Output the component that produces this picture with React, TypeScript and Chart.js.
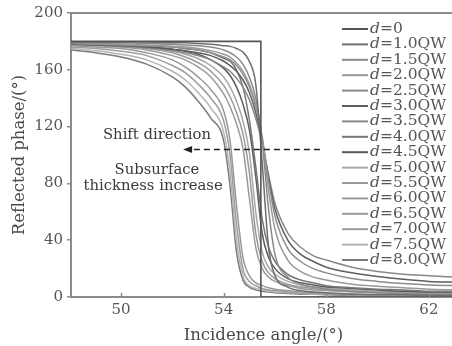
import { useEffect, useRef } from 'react';
import { Chart, registerables } from 'chart.js';

Chart.register(...registerables);

// shared incidence-angle grid (degrees)
const ANGLES = [48, 49, 50, 51, 52, 52.5, 53, 53.5, 54, 54.25, 54.5, 54.75, 55, 55.25, 55.5, 55.75, 56, 56.5, 57, 57.5, 58, 59, 60, 61, 62, 63];

// d = 0 : ideal step
const STEP_X = [48, 55.45, 55.45, 63];
const STEP_Y = [180, 180, 0, 0];

const D1_0 = [179.5, 179.5, 179.5, 179.5, 179, 179, 178.5, 178, 177, 176.5, 175, 172.5, 166, 150, 95, 35, 15, 7, 4.5, 3.5, 3, 2, 1.5, 1.5, 1, 1];
const D1_5 = [179, 179, 179, 178.5, 178, 177.5, 177, 176, 174, 172, 169, 164, 155, 140, 110, 62, 30, 14, 9, 7, 5.5, 4, 3, 2.5, 2, 2];
const D2_0 = [179, 178.5, 178, 177.5, 176.5, 176, 175, 173.5, 171, 169, 165, 159, 150, 136, 112, 75, 48, 26, 18, 14, 12, 9, 7.5, 6.5, 5.5, 5];
const D2_5 = [178.5, 178, 177.5, 177, 176, 175, 174, 172, 169, 167, 163, 157, 148, 134, 113, 82, 57, 34, 25, 20, 17, 13, 11, 9.5, 8.5, 8];
const D3_0 = [178, 177.5, 177, 176, 174.5, 173.5, 172, 170, 166, 163, 159, 153, 144, 130, 110, 84, 62, 40, 30, 25, 21, 17, 14.5, 12.5, 11, 10.5];
const D3_5 = [178, 177.5, 176.5, 175.5, 173.5, 172, 170, 167, 162, 159, 154, 148, 139, 126, 108, 86, 66, 45, 35, 29, 26, 21, 18, 16, 15, 14];
const D4_0 = [179, 178.5, 178, 177, 176, 175, 174, 172, 168, 166, 160, 148, 125, 92, 55, 35, 25, 16, 12, 10, 8, 6.5, 5.5, 5, 4, 4];
const D4_5 = [178.5, 178, 177.5, 176.5, 174.5, 173, 171, 167, 161, 156, 148, 136, 118, 85, 45, 28, 20, 13, 10, 8.5, 7, 6, 5, 4, 3.5, 3.5];
const D5_0 = [178, 177.5, 177, 175.5, 173, 171, 168, 163, 155, 148, 138, 124, 102, 60, 32, 21, 16, 11, 8.5, 7, 6, 5, 4, 3.5, 3, 3];
const D5_5 = [178, 177.5, 176.5, 175, 172, 169, 165, 159, 149, 141, 130, 115, 88, 45, 25, 17, 13, 9, 7, 6, 5, 4, 3.5, 3, 2.5, 2.5];
const D6_0 = [177.5, 177, 176, 174, 170, 167, 162, 155, 143, 134, 122, 105, 70, 35, 20, 14, 11, 8, 6, 5, 4.5, 3.5, 3, 2.5, 2, 2];
const D6_5 = [177, 176, 175, 172, 167, 162, 155, 146, 131, 110, 65, 28, 15, 10, 8, 6.5, 5.5, 4.5, 3.5, 3, 2.5, 2, 2, 1.5, 1.5, 1.5];
const D7_0 = [176, 175, 173, 170, 163, 158, 150, 140, 124, 100, 52, 20, 11, 8, 6, 5, 4.5, 3.5, 3, 2.5, 2, 2, 1.5, 1.5, 1, 1];
const D7_5 = [175, 173.5, 171, 167, 159, 153, 144, 133, 116, 88, 40, 15, 8, 6, 5, 4, 3.5, 3, 2.5, 2, 2, 1.5, 1, 1, 1, 1];
const D8_0 = [174, 172, 169, 164, 155, 148, 138, 126, 110, 78, 32, 12, 7, 5, 4, 3.5, 3, 2.5, 2, 2, 1.5, 1, 1, 1, 1, 1];

const SERIES = [D1_0, D1_5, D2_0, D2_5, D3_0, D3_5, D4_0, D4_5, D5_0, D5_5, D6_0, D6_5, D7_0, D7_5, D8_0];
const LABELS = ['0', '1.0QW', '1.5QW', '2.0QW', '2.5QW', '3.0QW', '3.5QW', '4.0QW', '4.5QW', '5.0QW', '5.5QW', '6.0QW', '6.5QW', '7.0QW', '7.5QW', '8.0QW'];
const COLORS = ['#555555', '#6e6e6e', '#8a8a8a', '#999999', '#8c8c8c', '#5e5e5e', '#888888', '#777777', '#5a5a5a', '#a8a8a8', '#999999', '#9a9a9a', '#999999', '#9c9c9c', '#b5b5b5', '#7a7a7a'];

const X_TICKS = [50, 54, 58, 62];
const Y_TICKS = [0, 40, 80, 120, 160, 200];
const X_TITLE = 'Incidence angle/(°)';
const Y_TITLE = 'Reflected phase/(°)';
const NOTE_SHIFT = 'Shift direction';
const NOTE_SUB1 = 'Subsurface';
const NOTE_SUB2 = 'thickness increase';

const FONT = '"DejaVu Serif", "Liberation Serif", serif';

const overlay = {
  id: 'overlay',
  afterDraw(chart: any) {
    const { ctx, chartArea: a, scales } = chart;
    const xs = scales.x;
    const ys = scales.y;
    ctx.save();
    // top frame line
    ctx.strokeStyle = '#8c8c8c';
    ctx.lineWidth = 2;
    ctx.beginPath();
    ctx.moveTo(a.left - 1, a.top);
    ctx.lineTo(a.right, a.top);
    ctx.stroke();
    // inward x ticks
    ctx.lineWidth = 1.5;
    ctx.beginPath();
    for (const v of X_TICKS) {
      const px = Math.round(xs.getPixelForValue(v)) + 0.5;
      ctx.moveTo(px, a.bottom);
      ctx.lineTo(px, a.bottom - 4);
    }
    ctx.stroke();

    // axis titles
    ctx.fillStyle = '#4a4a4a';
    ctx.font = `16.5px ${FONT}`;
    ctx.textAlign = 'center';
    ctx.textBaseline = 'middle';
    ctx.fillText(X_TITLE, (a.left + a.right) / 2 + 2, 336);
    ctx.save();
    ctx.translate(20, (a.top + a.bottom) / 2);
    ctx.rotate(-Math.PI / 2);
    ctx.fillText(Y_TITLE, 0, 0);
    ctx.restore();

    // annotations
    ctx.fillStyle = '#3a3a3a';
    ctx.font = `14.8px ${FONT}`;
    ctx.fillText(NOTE_SHIFT, xs.getPixelForValue(51.4), ys.getPixelForValue(114));
    ctx.fillText(NOTE_SUB1, xs.getPixelForValue(51.4), ys.getPixelForValue(89.5));
    ctx.fillText(NOTE_SUB2, xs.getPixelForValue(51.25), ys.getPixelForValue(78));

    const ay = Math.round(ys.getPixelForValue(104.2)) + 0.5;
    const ax0 = xs.getPixelForValue(57.75);
    const ax1 = xs.getPixelForValue(52.42);
    ctx.strokeStyle = '#222';
    ctx.lineWidth = 1.4;
    ctx.setLineDash([6, 4]);
    ctx.beginPath();
    ctx.moveTo(ax0, ay);
    ctx.lineTo(ax1 + 8, ay);
    ctx.stroke();
    ctx.setLineDash([]);
    ctx.fillStyle = '#222';
    ctx.beginPath();
    ctx.moveTo(ax1, ay);
    ctx.lineTo(ax1 + 9, ay - 3.5);
    ctx.lineTo(ax1 + 9, ay + 3.5);
    ctx.closePath();
    ctx.fill();

    // legend
    const lx0 = 342;
    const lx1 = 368;
    const ty0 = 29;
    const step = 15.4;
    ctx.textAlign = 'left';
    ctx.textBaseline = 'middle';
    LABELS.forEach((lab, i) => {
      const y = ty0 + i * step;
      ctx.strokeStyle = COLORS[i];
      ctx.lineWidth = 2;
      ctx.beginPath();
      ctx.moveTo(lx0, y);
      ctx.lineTo(lx1, y);
      ctx.stroke();
      ctx.fillStyle = '#555';
      ctx.font = `italic 15.5px ${FONT}`;
      ctx.fillText('d', lx1 + 2, y);
      const w = ctx.measureText('d').width;
      ctx.font = `15.5px ${FONT}`;
      ctx.fillText('=' + lab, lx1 + 2 + w, y);
    });
    ctx.restore();
  },
};

export default function App() {
  const ref = useRef<HTMLCanvasElement | null>(null);
  useEffect(() => {
    if (!ref.current) return;
    const datasets: any[] = [
      {
        label: 'd=' + LABELS[0],
        data: STEP_X.map((x, i) => ({ x, y: STEP_Y[i] })),
        borderColor: COLORS[0],
        borderWidth: 1.6,
        pointRadius: 0,
        tension: 0,
      },
      ...SERIES.map((ys, k) => ({
        label: 'd=' + LABELS[k + 1],
        data: ANGLES.map((x, i) => ({ x, y: ys[i] })),
        borderColor: COLORS[k + 1],
        borderWidth: 1.5,
        pointRadius: 0,
        cubicInterpolationMode: 'monotone',
      })),
    ];
    const chart = new Chart(ref.current, {
      type: 'line',
      data: { datasets },
      options: {
        animation: false,
        responsive: false,
        events: [],
        layout: { padding: { top: 13, right: 0, left: 0, bottom: 0 } },
        plugins: { legend: { display: false }, tooltip: { enabled: false } },
        scales: {
          x: {
            type: 'linear',
            min: 48.05,
            max: 62.9,
            afterFit: (s: any) => { s.height = 49; },
            afterBuildTicks: (s: any) => { s.ticks = X_TICKS.map((v) => ({ value: v })); },
            grid: { display: true, drawOnChartArea: false, drawTicks: false },
            border: { display: true, color: '#8c8c8c', width: 2 },
            ticks: { padding: 4, color: '#555', font: { family: FONT, size: 15 } },
          },
          y: {
            type: 'linear',
            min: 0,
            max: 200,
            afterFit: (s: any) => { s.width = 71; },
            afterBuildTicks: (s: any) => { s.ticks = Y_TICKS.map((v) => ({ value: v })); },
            grid: { display: true, drawOnChartArea: false, drawTicks: true, tickLength: 4, color: '#8c8c8c', lineWidth: 1.5 },
            border: { display: true, color: '#8c8c8c', width: 2 },
            ticks: { padding: 4, color: '#555', font: { family: FONT, size: 15 } },
          },
        },
      },
      plugins: [overlay],
    });
    return () => chart.destroy();
  }, []);
  return (
    <div style={{ position: 'fixed', left: 0, top: 0, width: 452, height: 346, background: '#fff' }}>
      <canvas ref={ref} width={452} height={346} style={{ display: 'block' }} />
    </div>
  );
}
